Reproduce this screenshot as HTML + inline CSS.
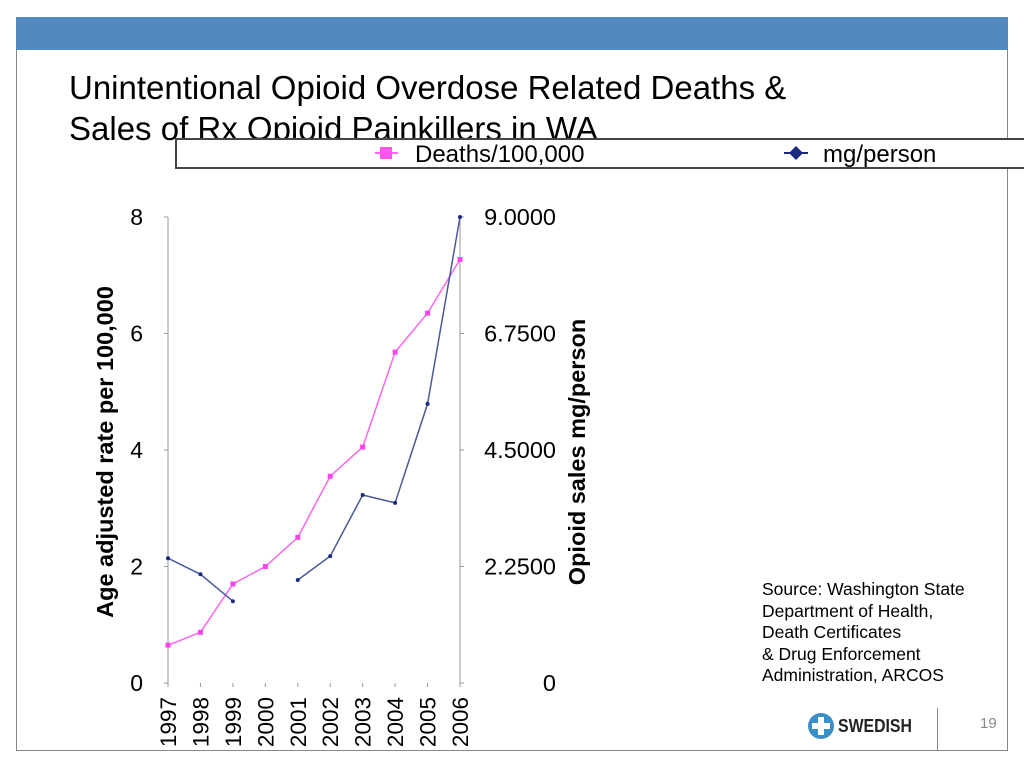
<!DOCTYPE html>
<html><head><meta charset="utf-8"><style>
body{margin:0;width:1024px;height:768px;background:#fff;position:relative;overflow:hidden;font-family:"Liberation Sans",sans-serif}
div{position:absolute}
</style></head><body>
<div style="left:16px;top:17px;width:992px;height:33px;background:#5289c0"></div>
<div style="left:16px;top:50px;width:1px;height:700px;background:#888"></div>
<div style="left:1007px;top:50px;width:1px;height:700px;background:#888"></div>
<div style="left:16px;top:750px;width:992px;height:1px;background:#888"></div>
<div style="left:937px;top:708px;width:1px;height:42px;background:#888"></div>
<div style="left:69px;top:67px;font-size:33px;line-height:41px;color:#000;white-space:nowrap">Unintentional Opioid Overdose Related Deaths &amp;<br>Sales of Rx Opioid Painkillers in WA</div>
<div style="left:175px;top:138px;width:860px;height:27px;background:#fff;border-top:2px solid #444;border-left:2px solid #444;border-bottom:2px solid #444"></div>
<svg width="1024" height="768" style="position:absolute;left:0;top:0" id="svg"></svg>
<div style="left:762px;top:579px;font-size:17.5px;line-height:21.5px;color:#000;white-space:nowrap">Source: Washington State<br>Department of Health,<br>Death Certificates<br>&amp; Drug Enforcement<br>Administration, ARCOS</div>
<div style="left:808px;top:713px;width:26px;height:26px;border-radius:50%;background:#3a8fc8"><div style="left:10px;top:4px;width:6px;height:18px;background:#fff"></div><div style="left:4px;top:10px;width:18px;height:6px;background:#fff"></div></div>
<div style="left:838px;top:716px;font-size:18px;font-weight:bold;color:#222;transform:scaleX(0.88);transform-origin:left">SWEDISH</div>
<div style="left:980px;top:715px;font-size:15px;color:#888">19</div>
<script>
const years=["1997","1998","1999","2000","2001","2002","2003","2004","2005","2006"];
const deaths=[0.65,0.87,1.7,2.0,2.5,3.55,4.05,5.68,6.35,7.27];
const mgPerson=[2.41,2.10,1.58,null,1.99,2.45,3.63,3.48,5.39,9.0];
const leftTicks=[0,2,4,6,8];
const rightTicks=["0","2.2500","4.5000","6.7500","9.0000"];
const rightTickVals=[0,2.25,4.5,6.75,9];
const svg=document.getElementById('svg');const NS="http://www.w3.org/2000/svg";
const x0=168,x1=460,yB=683,yT=217;
const xs=i=>x0+(x1-x0)*i/(years.length-1);
const yl=v=>yB-(yB-yT)*v/8;
const yr=v=>yB-(yB-yT)*v/9;
function mk(t,a,txt){const e=document.createElementNS(NS,t);for(const k in a)e.setAttribute(k,a[k]);if(txt!=null)e.textContent=txt;svg.appendChild(e);return e;}
let e;
e=mk('line',{x1:x0,y1:yT,x2:x0,y2:yB,stroke:'#999'});


e=mk('line',{x1:x1,y1:yT,x2:x1,y2:yB,stroke:'#999'});


leftTicks.forEach(v=>{
 mk('line',{x1:x0-4,y1:yl(v),x2:x0,y2:yl(v),stroke:'#999'});
 e=mk('text',{x:143,y:yl(v)+8,'text-anchor':'end','font-size':23,fill:'#000'},v);
 
 
});
rightTickVals.forEach((v,i)=>{
 mk('line',{x1:x1,y1:yr(v),x2:x1+4,y2:yr(v),stroke:'#999'});
 e=mk('text',{x:556,y:yr(v)+8,'text-anchor':'end','font-size':23.5,fill:'#000'},rightTicks[i]);
 
 
});
years.forEach((y,i)=>{
 mk('line',{x1:xs(i),y1:yB,x2:xs(i),y2:yB+4,stroke:'#999'});
 e=mk('text',{x:0,y:0,'font-size':22.5,fill:'#000','text-anchor':'end',transform:`translate(${xs(i)+8},${yB+14}) rotate(-90)`},y);
 
 
});
e=mk('text',{x:0,y:0,'font-size':23.5,'font-weight':'bold','text-anchor':'middle',transform:'translate(113,452) rotate(-90)'},'Age adjusted rate per 100,000');


e=mk('text',{x:0,y:0,'font-size':23.5,'font-weight':'bold','text-anchor':'middle',transform:'translate(585,452) rotate(-90)'},'Opioid sales mg/person');


e=mk('polyline',{points:deaths.map((v,i)=>xs(i)+','+yl(v)).join(' '),fill:'none',stroke:'#ff66ee','stroke-width':1.5});


deaths.forEach((v,i)=>{e=mk('rect',{x:xs(i)-2.5,y:yl(v)-2.5,width:5,height:5,fill:'#ff44ee'});
 
 });
let seg=[];const segs=[];
mgPerson.forEach((v,i)=>{if(v==null){if(seg.length)segs.push(seg);seg=[];}else seg.push(xs(i)+','+yr(v));});
if(seg.length)segs.push(seg);
segs.forEach(s=>{e=mk('polyline',{points:s.join(' '),fill:'none',stroke:'#4a5a9a','stroke-width':1.5});
 
 });
mgPerson.forEach((v,i)=>{if(v==null)return;e=mk('circle',{cx:xs(i),cy:yr(v),r:2,fill:'#1a2a80'});
 
 });
mk('line',{x1:375,y1:153,x2:398,y2:153,stroke:'#ff66ee','stroke-width':2});
mk('rect',{x:380,y:147,width:12,height:12,fill:'#ff55ee'});
e=mk('text',{x:415,y:162,'font-size':24,fill:'#000'},'Deaths/100,000');


mk('line',{x1:784,y1:153,x2:808,y2:153,stroke:'#1a2a80','stroke-width':2});
mk('polygon',{points:'796,146 803,153 796,160 789,153',fill:'#1a2a80'});
e=mk('text',{x:823,y:162,'font-size':24,fill:'#000'},'mg/person');


</script>
</body></html>
